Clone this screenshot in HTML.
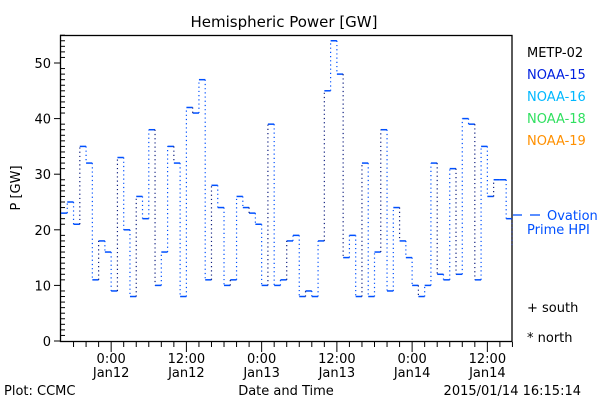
<!DOCTYPE html>
<html><head><meta charset="utf-8"><style>
body{margin:0;background:#fff;}
svg text{font-family:"DejaVu Sans","Liberation Sans",sans-serif;}
</style></head><body>
<svg id="chart" width="600" height="400" xmlns="http://www.w3.org/2000/svg">
<text x="284" y="27" font-size="15" text-anchor="middle">Hemispheric Power [GW]</text>
<rect x="60.5" y="35.5" width="451.5" height="306" fill="none" stroke="#000" stroke-width="1.3"/>
<g id="yaxis"></g>
<g id="xaxis"></g>
<g id="series"></g>
<text transform="translate(20,188) rotate(-90)" font-size="13" text-anchor="middle">P [GW]</text>
<text x="286" y="395" font-size="13" text-anchor="middle">Date and Time</text>
<text x="4" y="395" font-size="13">Plot: CCMC</text>
<text x="581" y="395" font-size="13" text-anchor="end">2015/01/14 16:15:14</text>
<g font-size="13">
<text x="527" y="57" fill="#000">METP-02</text>
<text x="527" y="79" fill="#0020e0">NOAA-15</text>
<text x="527" y="101" fill="#00b8ff">NOAA-16</text>
<text x="527" y="123" fill="#30e060">NOAA-18</text>
<text x="527" y="145" fill="#ff9000">NOAA-19</text>
<line x1="513" y1="215" x2="522" y2="215" stroke="#0050ff" stroke-width="1.3"/>
<line x1="530" y1="215" x2="540" y2="215" stroke="#0050ff" stroke-width="1.3"/>
<text x="547" y="220" fill="#0050ff">Ovation</text>
<text x="527" y="234" fill="#0050ff">Prime HPI</text>
<text x="527" y="312" fill="#000">+ south</text>
<text x="527" y="342" fill="#000">* north</text>
</g>
</svg>
<script>
const values=[23,25,21,35,32,11,18,16,9,33,20,8,26,22,38,10,16,35,32,8,42,41,47,11,28,24,10,11,26,24,23,21,10,39,10,11,18,19,8,9,8,18,45,54,48,15,19,8,32,8,16,38,9,24,18,15,10,8,10,32,12,11,31,12,40,39,11,35,26,29,29,22,17];
const startHour=-8;
const yTicks=[0,10,20,30,40,50];
const xTickHours=[0,12,24,36,48,60];
const xTickLabels=[["0:00","Jan12"],["12:00","Jan12"],["0:00","Jan13"],["12:00","Jan13"],["0:00","Jan14"],["12:00","Jan14"]];
const NS="http://www.w3.org/2000/svg";
const x0=61,pxH=6.27,y0=341,pxV=5.56,xMax=512;
function xs(h){return x0+(h-startHour)*pxH;}
function ys(v){return y0-v*pxV;}
function mk(tag,attrs,parent){const e=document.createElementNS(NS,tag);for(const k in attrs)e.setAttribute(k,attrs[k]);parent.appendChild(e);return e;}
const ya=document.getElementById('yaxis'),xa=document.getElementById('xaxis'),sg=document.getElementById('series');
for(let v=0;v<=55;v++){
  const y=ys(v);const major=v%10===0;
  const t=mk('line',{x1:major?54:60,x2:major?60:65,y1:y,y2:y,stroke:'#000','stroke-width':1},ya);
  
  
}
yTicks.forEach(v=>{
  const t=mk('text',{x:51,y:ys(v)+5,'font-size':13,'text-anchor':'end'},ya);t.textContent=v;
  
  
});
for(let h=-6;h<=64;h+=2){
  const x=xs(h);const major=h%12===0;
  const t=mk('line',{x1:x,x2:x,y1:342,y2:major?352:347,stroke:'#000','stroke-width':1},xa);
  
  
}
xTickHours.forEach((h,i)=>{
  const a=mk('text',{x:xs(h),y:363,'font-size':13,'text-anchor':'middle'},xa);a.textContent=xTickLabels[i][0];
  
  
  const b=mk('text',{x:xs(h),y:377,'font-size':13,'text-anchor':'middle'},xa);b.textContent=xTickLabels[i][1];
  
  
});
values.forEach((v,i)=>{
  const h=startHour+i;
  const xa1=xs(h),xa2=Math.min(xs(h+1),xMax);
  if(xa2>xa1+0.5){
    const s=mk('line',{x1:xa1,x2:xa2,y1:ys(v),y2:ys(v),stroke:'#0050ff','stroke-width':1.5},sg);
    
    
  }
  if(i>0){
    const xr=Math.min(xa1,xMax);
    const d=mk('line',{x1:xr,x2:xr,y1:ys(values[i-1]),y2:ys(v),stroke:i%3===0?'#102080':'#0050ff','stroke-width':1.2,'stroke-dasharray':'1.2,3'},sg);
    
    
  }
});
</script>
</body></html>
